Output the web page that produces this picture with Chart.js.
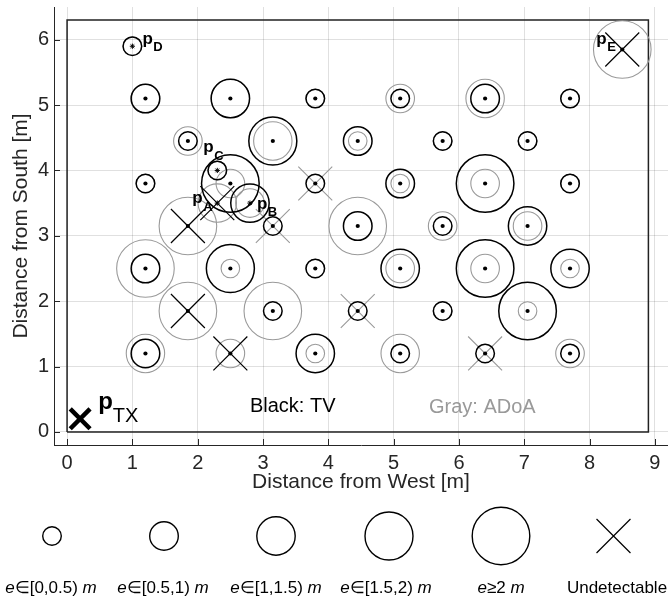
<!DOCTYPE html>
<html><head><meta charset="utf-8">
<script src="https://cdn.jsdelivr.net/npm/chart.js@4/dist/chart.umd.min.js"></script>
<style>html,body{margin:0;padding:0;background:#fff;overflow:hidden}#wrap{width:668px;height:599px;position:relative}</style>
</head><body><div id="wrap"><canvas id="c" width="668" height="599"></canvas></div>
<script>
// ---------- data ----------
const gridX = [1.2, 2.5, 3.8, 5.1, 6.4, 7.7,
               1.85, 3.15, 4.45, 5.75, 7.05,
               1.2, 2.5, 3.8, 5.1, 6.4, 7.7,
               1.85, 3.15, 4.45, 5.75, 7.05,
               1.2, 2.5, 3.8, 5.1, 6.4, 7.7,
               1.85, 3.15, 4.45, 5.75, 7.05,
               1.2, 2.5, 3.8, 5.1, 6.4, 7.7];
const gridY = [5.1, 5.1, 5.1, 5.1, 5.1, 5.1,
               4.45, 4.45, 4.45, 4.45, 4.45,
               3.8, 3.8, 3.8, 3.8, 3.8, 3.8,
               3.15, 3.15, 3.15, 3.15, 3.15,
               2.5, 2.5, 2.5, 2.5, 2.5, 2.5,
               1.85, 1.85, 1.85, 1.85, 1.85,
               1.2, 1.2, 1.2, 1.2, 1.2, 1.2];
// error category: 0:[0,0.5) 1:[0.5,1) 2:[1,1.5) 3:[1.5,2) 4:>=2  -1: undetectable
const gridTV   = [1, 2, 0, 0, 1, 0,
                  0, 3, 1, 0, 0,
                  0, 4, 0, 1, 4, 0,
                  -1, 0, 1, 0, 2,
                  1, 3, 0, 2, 4, 2,
                  -1, 0, 0, 0, 4,
                  1, -1, 2, 0, 0, 0];
const gridADoA = [1, 2, 0, 1, 2, 0,
                  1, 2, 0, 0, 0,
                  0, 1, -1, 0, 1, 0,
                  4, -1, 4, 1, 1,
                  4, 0, 0, 1, 1, 0,
                  4, 4, -1, 0, 0,
                  2, 1, 0, 2, -1, 1];
const specialNames = ['A', 'B', 'C', 'D', 'E'];
const specialX     = [2.3, 2.8, 2.3, 1.0, 8.5];
const specialY     = [3.5, 3.5, 4.0, 5.9, 5.85];
const specialTV    = [-1, 2, 0, 0, -1];
const specialADoA  = [2, 1, 0, 0, 4];
const txX = [0.2];
const txY = [0.2];
const roomX = [0, 8.9, 8.9, 0, 0];
const roomY = [0, 0, 6.3, 6.3, 0];
const xTicks = [0, 1, 2, 3, 4, 5, 6, 7, 8, 9];
const yTicks = [0, 1, 2, 3, 4, 5, 6];
const legendLabels = [
  [['e', 'i'], ['∈[0,0.5) ', 'n'], ['m', 'i']],
  [['e', 'i'], ['∈[0.5,1) ', 'n'], ['m', 'i']],
  [['e', 'i'], ['∈[1,1.5) ', 'n'], ['m', 'i']],
  [['e', 'i'], ['∈[1.5,2) ', 'n'], ['m', 'i']],
  [['e', 'i'], ['≥2 ', 'n'], ['m', 'i']],
  [['Undetectable', 'n']]
];
const noteTexts = ['Black: TV', 'Gray: ADoA'];

// ---------- style ----------
const FONT = "'Liberation Sans', Arial, Helvetica, sans-serif";
const catR = [9.3, 14.3, 19.2, 24.0, 28.8];
const X_R = 24;
const BLACK = '#000000', GRAY = '#9a9a9a', AXIS = '#262626';
const notePos = [{x: 2.8, y: 0.3, color: '#000'}, {x: 5.54, y: 0.29, color: '#999'}];
const labelOff = { // pixel offsets of "p" baseline-left from point
  A: [-25, 0], B: [7, 5.5], C: [-14, -18], D: [10, -2.5], E: [-26, -5.5]
};

// ---------- build datasets ----------
const allX = gridX.concat(specialX), allY = gridY.concat(specialY);
const allTV = gridTV.concat(specialTV), allAD = gridADoA.concat(specialADoA);
function circles(cats) {
  const out = [];
  cats.forEach((c, i) => { if (c >= 0) out.push({x: allX[i], y: allY[i], r: catR[c]}); });
  return out;
}
function crosses(cats) {
  const out = [];
  cats.forEach((c, i) => { if (c < 0) out.push({x: allX[i], y: allY[i]}); });
  return out;
}
const dotPts = gridX.map((v, i) => ({x: v, y: gridY[i]}));
dotPts.push({x: specialX[4], y: specialY[4]});
const starPts = specialX.slice(0, 4).map((v, i) => ({x: v, y: specialY[i]}));

const overlay = {
  id: 'overlay',
  afterDatasetsDraw(chart) {
    const ctx = chart.ctx, xs = chart.scales.x, ys = chart.scales.y, ca = chart.chartArea;
    ctx.save();
    // inward tick marks
    ctx.strokeStyle = AXIS; ctx.lineWidth = 1;
    ctx.beginPath();
    xTicks.forEach(v => { const p = Math.round(xs.getPixelForValue(v)) + 0.5; ctx.moveTo(p, ca.bottom); ctx.lineTo(p, ca.bottom - 6); });
    yTicks.forEach(v => { const p = Math.round(ys.getPixelForValue(v)) + 0.5; ctx.moveTo(ca.left, p); ctx.lineTo(ca.left + 6, p); });
    ctx.stroke();
    // point labels
    ctx.fillStyle = '#000'; ctx.textAlign = 'left'; ctx.textBaseline = 'alphabetic';
    specialNames.forEach((n, i) => {
      const px = xs.getPixelForValue(specialX[i]), py = ys.getPixelForValue(specialY[i]);
      const [dx, dy] = labelOff[n];
      ctx.font = 'bold 17px ' + FONT;
      ctx.fillText('p', px + dx, py + dy);
      const w = ctx.measureText('p').width;
      ctx.font = 'bold 13px ' + FONT;
      ctx.fillText(n, px + dx + w + 0.5, py + dy + 7.5);
    });
    const tx = xs.getPixelForValue(txX[0]), ty = ys.getPixelForValue(txY[0]);
    ctx.font = 'bold 24px ' + FONT;
    ctx.fillText('p', tx + 18, ty - 10);
    const pw = ctx.measureText('p').width;
    ctx.font = '20px ' + FONT;
    ctx.fillText('TX', tx + 18 + pw, ty + 3);
    // notes
    ctx.font = '20px ' + FONT;
    noteTexts.forEach((t, i) => {
      ctx.fillStyle = notePos[i].color;
      ctx.fillText(t, xs.getPixelForValue(notePos[i].x), ys.getPixelForValue(notePos[i].y));
    });
    ctx.restore();
  },
  afterDraw(chart) {
    const ctx = chart.ctx;
    ctx.save();
    const cxs = [52, 164, 276, 389, 501, 613.5];
    const cy = 536;
    ctx.strokeStyle = '#000'; ctx.lineWidth = 1.4;
    for (let k = 0; k < 5; k++) {
      ctx.beginPath(); ctx.arc(cxs[k], cy, catR[k], 0, Math.PI * 2); ctx.stroke();
    }
    const h = X_R * Math.SQRT1_2;
    ctx.lineWidth = 1.2;
    ctx.beginPath();
    ctx.moveTo(cxs[5] - h, cy - h); ctx.lineTo(cxs[5] + h, cy + h);
    ctx.moveTo(cxs[5] + h, cy - h); ctx.lineTo(cxs[5] - h, cy + h);
    ctx.stroke();
    const lxs = [51, 163, 276, 386, 501, 617];
    ctx.fillStyle = '#000'; ctx.textBaseline = 'alphabetic'; ctx.textAlign = 'left';
    legendLabels.forEach((parts, k) => {
      const fonts = parts.map(p => (p[1] === 'i' ? 'italic ' : '') + '17px ' + FONT);
      let total = 0;
      const ws = parts.map((p, j) => { ctx.font = fonts[j]; const w = ctx.measureText(p[0]).width; total += w; return w; });
      let x = lxs[k] - total / 2;
      parts.forEach((p, j) => { ctx.font = fonts[j]; ctx.fillText(p[0], x, 593); x += ws[j]; });
    });
    ctx.restore();
  }
};

new Chart(document.getElementById('c'), {
  type: 'scatter',
  data: {
    datasets: [
      {type: 'scatter', data: txX.map((v, i) => ({x: v, y: txY[i]})), pointStyle: 'crossRot', pointRadius: 14,
       borderColor: '#000', borderWidth: 4.5, order: 0},
      {type: 'scatter', data: starPts, pointStyle: 'star', pointRadius: 2.6, borderColor: '#000', borderWidth: 1, order: 1},
      {type: 'scatter', data: dotPts, pointStyle: 'circle', pointRadius: 2.1, backgroundColor: '#000', borderWidth: 0, order: 1},
      {type: 'scatter', data: crosses(allTV), pointStyle: 'crossRot', pointRadius: X_R, borderColor: BLACK, borderWidth: 1.2, order: 2},
      {type: 'bubble', data: circles(allTV), backgroundColor: 'rgba(0,0,0,0)', borderColor: BLACK, borderWidth: 1.5, order: 3},
      {type: 'scatter', data: crosses(allAD), pointStyle: 'crossRot', pointRadius: X_R, borderColor: GRAY, borderWidth: 1.1, order: 4},
      {type: 'bubble', data: circles(allAD), backgroundColor: 'rgba(0,0,0,0)', borderColor: GRAY, borderWidth: 1.1, order: 5},
      {type: 'scatter', data: roomX.map((v, i) => ({x: v, y: roomY[i]})), showLine: true, pointRadius: 0,
       borderColor: '#222', borderWidth: 1.5, fill: false, order: 6}
    ]
  },
  options: {
    responsive: false, animation: false, events: [],
    layout: {padding: {top: 7, left: 0, right: 0, bottom: 0}, autoPadding: false},
    plugins: {legend: {display: false}, tooltip: {enabled: false}},
    scales: {
      x: {
        type: 'linear', min: -0.2, max: 9.2,
        afterBuildTicks: s => { s.ticks = xTicks.map(v => ({value: v})); },
        afterFit: s => { s.height = 154; s.paddingLeft = 0; s.paddingRight = 0; },
        grid: {color: 'rgba(0,0,0,0.12)', lineWidth: 1, drawTicks: false},
        border: {display: true, color: AXIS, width: 1},
        ticks: {padding: 6, color: AXIS, font: {family: FONT, size: 20}, maxRotation: 0, autoSkip: false,
                callback: v => String(v)},
        title: {display: true, text: 'Distance from West [m]', color: AXIS, font: {family: FONT, size: 21},
                padding: {top: 0, bottom: 104}}
      },
      y: {
        type: 'linear', min: -0.2, max: 6.5,
        afterBuildTicks: s => { s.ticks = yTicks.map(v => ({value: v})); },
        afterFit: s => { s.width = 54; s.paddingTop = 0; s.paddingBottom = 0; },
        grid: {color: 'rgba(0,0,0,0.12)', lineWidth: 1, drawTicks: false},
        border: {display: true, color: AXIS, width: 1},
        ticks: {padding: 5, color: AXIS, font: {family: FONT, size: 20}, autoSkip: false,
                callback: v => String(v)},
        title: {display: true, text: 'Distance from South [m]', color: AXIS, font: {family: FONT, size: 21},
                padding: {top: 9, bottom: 0}}
      }
    }
  },
  plugins: [overlay]
});
</script></body></html>
